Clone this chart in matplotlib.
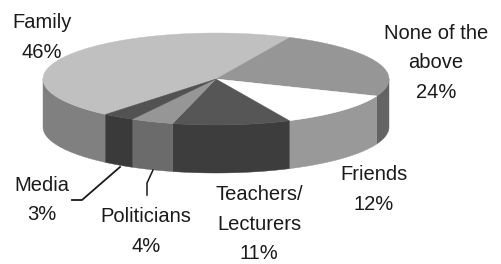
import numpy as np
import matplotlib
matplotlib.use("Agg")
import matplotlib.pyplot as plt
from matplotlib.patches import Polygon

# ---- data ----
labels = ["Family", "None of the\nabove", "Friends", "Teachers/\nLecturers", "Politicians", "Media"]
values = [46, 24, 12, 11, 4, 3]
top_colors = ["#c0c0c0", "#969696", "#ffffff", "#565656", "#969696", "#525252"]
side_colors = ["#808080", "#646464", "#999999", "#3d3d3d", "#6b6b6b", "#3a3a3a"]

# ---- geometry (pixels) ----
W, H = 501, 264
cx, cy, a, b, depth = 216, 79, 173, 46, 48
start = 230.3  # start angle of first slice, going clockwise

fig = plt.figure(figsize=(W / 100, H / 100), dpi=100)
ax = fig.add_axes([0, 0, 1, 1])
ax.set_xlim(0, W)
ax.set_ylim(H, 0)
ax.axis("off")


def pt(t, dz=0.0):
    r = np.radians(t)
    return cx + a * np.cos(r), cy - b * np.sin(r) + dz


total = float(sum(values))
angles = []
cur = start
for v in values:
    span = v / total * 360.0
    angles.append((cur - span, cur))
    cur -= span

# side walls (front half: -180..0 deg, and equivalents)
for (lo, hi), sc in zip(angles, side_colors):
    for k in (-1, 0, 1):
        l2, h2 = lo + 360 * k, hi + 360 * k
        s, e = max(l2, -180), min(h2, 0)
        if e > s:
            ts = np.linspace(s, e, 80)
            topx, topy = pt(ts)
            botx, boty = pt(ts[::-1], depth)
            xs = np.concatenate([topx, botx])
            ys = np.concatenate([topy, boty])
            ax.add_patch(Polygon(np.column_stack([xs, ys]), closed=True,
                                 facecolor=sc, edgecolor=sc, lw=0.3, zorder=1))

# top faces
for (lo, hi), tc in zip(angles, top_colors):
    ts = np.linspace(lo, hi, 200)
    xs, ys = pt(ts)
    poly = np.column_stack([np.concatenate([[cx], xs]), np.concatenate([[cy], ys])])
    ax.add_patch(Polygon(poly, closed=True, facecolor=tc, edgecolor=tc, lw=0.3, zorder=2))

# ---- labels ----
label_pos = [(42, 28), (436, 39), (374, 180), (259, 200), (146, 222), (42, 191)]
pitch = 29.5
fs = 14.5
for lab, v, (x, y) in zip(labels, values, label_pos):
    lines = lab.split("\n") + [f"{v}%"]
    for i, ln in enumerate(lines):
        ax.text(x, y + i * pitch, ln, ha="center", va="baseline", fontsize=fs,
                family="Liberation Sans", color="#1a1a1a", zorder=5)

# leader lines
ax.plot([120, 82, 72], [167, 200, 200], color="#1a1a1a", lw=1.3, zorder=4)
ax.plot([153, 147, 147], [170, 183, 195], color="#1a1a1a", lw=1.1, zorder=4)

fig.savefig("out.png", dpi=100)
